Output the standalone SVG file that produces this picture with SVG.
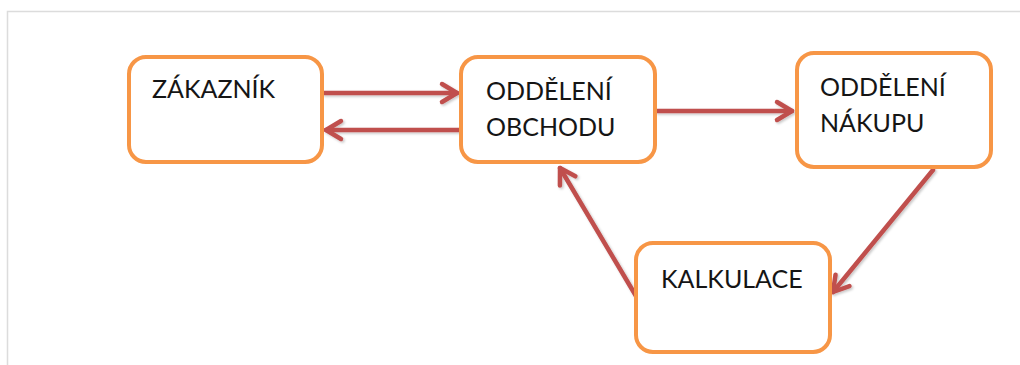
<svg xmlns="http://www.w3.org/2000/svg" width="1020" height="365" viewBox="0 0 1020 365">
  <style>
    .box { fill: #ffffff; stroke: #F79646; stroke-width: 4; }
    .label { font-family: Lato, "Open Sans", "Liberation Sans", sans-serif; font-size: 25px; fill: #151515; }
    .flow { fill: none; stroke: #C0504D; stroke-width: 4.5; stroke-linecap: round; }
    .frame { fill: none; stroke: #DCDCDC; stroke-width: 1.5; }
  </style>
  <defs>
    <marker id="open-arrow" markerUnits="userSpaceOnUse" viewBox="-20 -13 24 26" markerWidth="24" markerHeight="26" refX="0" refY="0" orient="auto">
      <path d="M -15 -9 L 0 0 L -15 9" fill="none" stroke="#C0504D" stroke-width="4.5" stroke-linecap="round" stroke-linejoin="round"/>
    </marker>
    <filter id="soft-shadow" x="-20%" y="-20%" width="140%" height="140%">
      <feDropShadow dx="1.5" dy="1.5" stdDeviation="1.2" flood-color="#000000" flood-opacity="0.22"/>
    </filter>
  </defs>

  <rect width="1020" height="365" fill="#ffffff"/>
  <!-- page frame -->
  <path class="frame" d="M 7.5 365 L 7.5 11.5 L 1020 11.5"/>

  <!-- connectors -->
  <g id="connectors" filter="url(#soft-shadow)">
    <line class="flow" x1="324" y1="93" x2="457" y2="93" marker-end="url(#open-arrow)"/>
    <line class="flow" x1="459" y1="130" x2="326" y2="130" marker-end="url(#open-arrow)"/>
    <line class="flow" x1="657" y1="111" x2="792" y2="111" marker-end="url(#open-arrow)"/>
    <line class="flow" x1="933" y1="170" x2="833" y2="292" marker-end="url(#open-arrow)"/>
    <line class="flow" x1="636" y1="296" x2="560" y2="168" marker-end="url(#open-arrow)"/>
  </g>

  <g id="zakaznik">
    <rect class="box" x="129" y="57" width="193" height="105" rx="17"/>
    <text class="label" x="152" y="98">ZÁKAZNÍK</text>
  </g>

  <g id="oddeleni-obchodu">
    <rect class="box" x="461" y="57" width="194" height="105" rx="17"/>
    <text class="label" x="486" y="100">ODDĚLENÍ</text>
    <text class="label" x="486" y="136">OBCHODU</text>
  </g>

  <g id="oddeleni-nakupu">
    <rect class="box" x="797" y="53" width="194" height="114" rx="17"/>
    <text class="label" x="820" y="96">ODDĚLENÍ</text>
    <text class="label" x="820" y="132">NÁKUPU</text>
  </g>

  <g id="kalkulace">
    <rect class="box" x="636" y="243" width="194" height="109" rx="17"/>
    <text class="label" x="661" y="288">KALKULACE</text>
  </g>
</svg>
